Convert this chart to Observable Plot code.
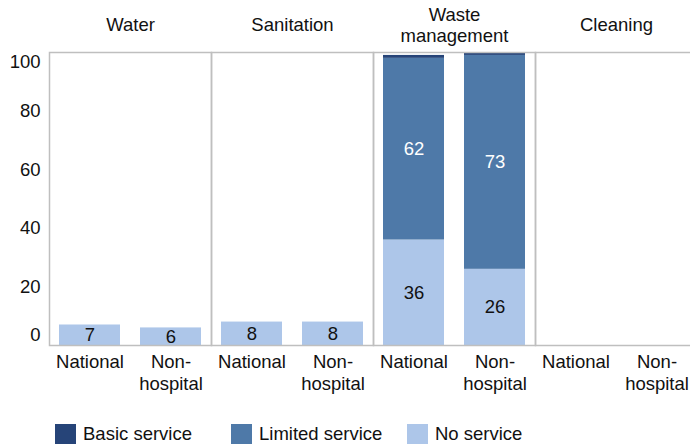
<!DOCTYPE html>
<html>
<head>
<meta charset="utf-8">
<script src="https://cdn.jsdelivr.net/npm/d3@7"></script>
<script src="https://cdn.jsdelivr.net/npm/@observablehq/plot@0.6"></script>
<style>
  html, body { margin: 0; padding: 0; overflow: hidden; background: #fff; }
  body { font-family: "Liberation Sans", Arial, sans-serif; width: 690px; }
  #chart { width: 690px; overflow: hidden; }
  #chart svg { max-width: none !important; }
  #legend { display: flex; margin-left: 55px; margin-top: 15px; font-size: 18.5px; color: #111; }
  .item { display: flex; align-items: center; width: 176px; }
  .sw { width: 21px; height: 20px; margin-right: 7px; flex: none; }
</style>
</head>
<body>
<div id="chart"></div>
<div id="legend"></div>
<script>
const categories = ["Water", "Sanitation", "Waste\nmanagement", "Cleaning"];
const groups = ["National", "Non-\nhospital"];
const services = ["No service", "Limited service", "Basic service"];
const colors = ["#adc6e9", "#4e79a8", "#264478"];
// values per category: [National, Non-hospital]
const noService =      [[7, 6], [8, 8], [36, 26], [0, 0]];
const limitedService = [[0, 0], [0, 0], [62, 73], [0, 0]];
const basicService =   [[0, 0], [0, 0], [1, 1], [0, 0]];
const yTicks = [20, 40, 60, 80];

const seriesValues = [noService, limitedService, basicService];
const rows = [];
categories.forEach((c, ci) => {
  groups.forEach((g, gi) => {
    services.forEach((s, si) => {
      rows.push({category: c, group: g, service: s, value: seriesValues[si][ci][gi]});
    });
  });
});

const font = "Liberation Sans, Arial, sans-serif";
const fs = 18.5;
const chart = Plot.plot({
  width: 697,
  height: 408,
  marginLeft: 48,
  marginRight: 0,
  marginTop: 52,
  marginBottom: 63,
  style: {fontFamily: font, fontSize: fs + "px", color: "#111", background: "white", maxWidth: "none"},
  fx: {domain: categories, padding: 0},
  x: {domain: groups, paddingInner: 0.25, paddingOuter: 0.125},
  y: {domain: [0, 100]},
  color: {domain: services, range: colors},
  marks: [
    Plot.barY(rows, Plot.stackY({fx: "category", x: "group", y: "value", fill: "service"})),
    Plot.text(rows, Plot.stackY({fx: "category", x: "group", y: "value",
      text: d => d.service === "Limited service" && d.value >= 5 ? String(d.value) : "",
      fill: "white", fontSize: fs})),
    Plot.text(rows, Plot.stackY({fx: "category", x: "group", y: "value",
      text: d => d.service === "No service" && d.value >= 5 ? String(d.value) : "",
      fill: "#111", fontSize: fs})),
    Plot.frame({stroke: "#bfbfbf", strokeWidth: 1.5}),
    Plot.axisY({ticks: yTicks, tickSize: 0, tickPadding: 9, fontSize: fs, label: null}),
    Plot.axisY({ticks: [0], tickSize: 0, tickPadding: 9, dy: -10, fontSize: fs, label: null}),
    Plot.axisY({ticks: [100], tickSize: 0, tickPadding: 9, dy: 10, fontSize: fs, label: null}),
    Plot.axisX({tickSize: 0, tickPadding: 7, fontSize: fs, label: null, lineAnchor: "top", lineHeight: 1.19}),
    Plot.axisFx({anchor: "top", tickSize: 0, tickPadding: 28, fontSize: fs, label: null, lineAnchor: "middle", lineHeight: 1.15})
  ]
});
document.getElementById("chart").appendChild(chart);

const legendOrder = ["Basic service", "Limited service", "No service"];
const legend = document.getElementById("legend");
legendOrder.forEach(s => {
  const item = document.createElement("div");
  item.className = "item";
  const sw = document.createElement("div");
  sw.className = "sw";
  sw.style.background = colors[services.indexOf(s)];
  const t = document.createElement("span");
  t.textContent = s;
  item.appendChild(sw);
  item.appendChild(t);
  legend.appendChild(item);
});
</script>
</body>
</html>
